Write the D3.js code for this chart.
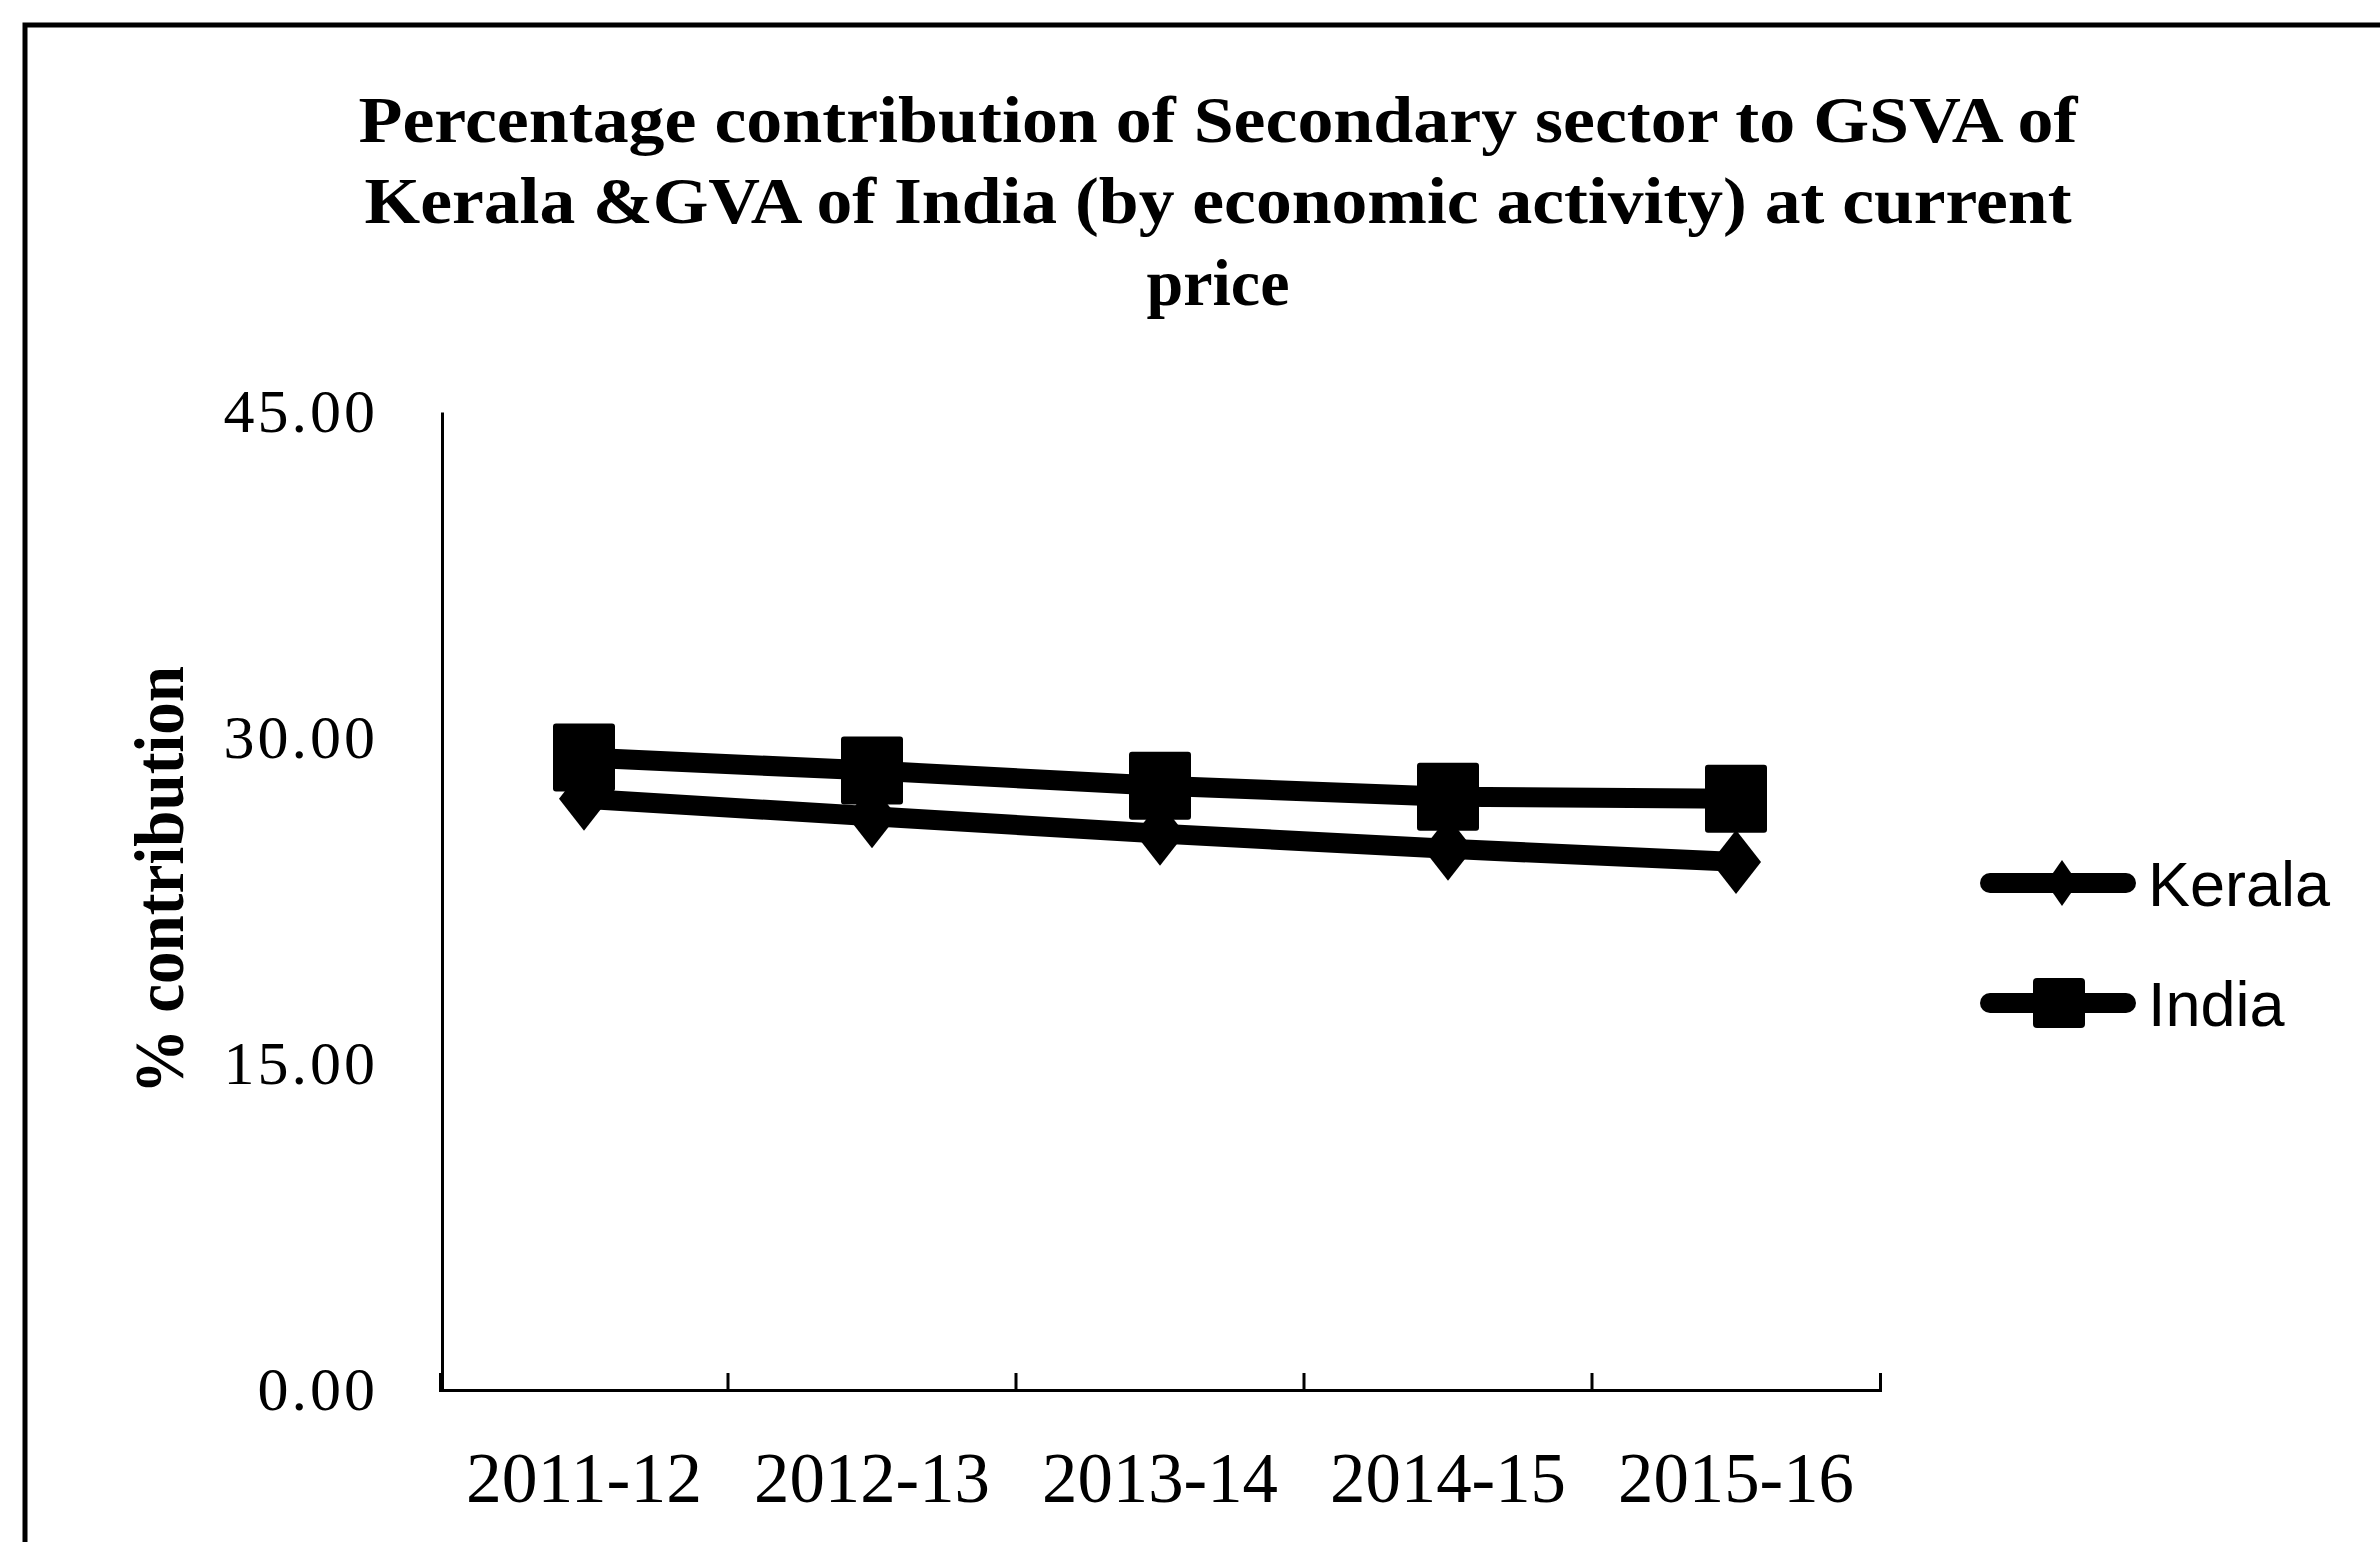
<!DOCTYPE html>
<html>
<head>
<meta charset="utf-8">
<script src="https://cdn.jsdelivr.net/npm/d3@7/dist/d3.min.js"></script>
<style>
body{margin:0;background:#fff;}
</style>
</head>
<body>
<div id="plotdiv"></div>
<script>
var years = ["2011-12","2012-13","2013-14","2014-15","2015-16"];
var kerala = [27.2,26.4,25.6,24.9,24.3];
var india = [29.1,28.5,27.8,27.3,27.2];
var yTicks = [0,15,30,45];
var seriesNames = ["Kerala","India"];
var titleLines = [
	"Percentage contribution of Secondary sector to GSVA of",
	"Kerala &GVA of India (by economic activity) at current",
	"price"
];
var yTitle = "% contribution";

function drawChart()
{
	var width = 2380;
	var height = 1542;
	var serif = "'Liberation Serif','Times New Roman',serif";
	var sans = "'Liberation Sans',Arial,sans-serif";

	var svg = d3.select("#plotdiv")
		.append("svg")
		.attr("width",width)
		.attr("height",height)
		.style("display","block");

	svg.append("rect")
		.attr("width",width)
		.attr("height",height)
		.attr("fill","#fff");

	// outer frame (only top and left survive in the scan)
	svg.append("path")
		.attr("d","M25," + height + "V25H" + width)
		.attr("fill","none")
		.attr("stroke","#000")
		.attr("stroke-width",5);

	// title
	var titleY = [142,223,305];
	var titleLen = [1719,1707,null];
	svg.append("g").selectAll("text")
		.data(titleLines)
		.enter().append("text")
		.attr("x",1218)
		.attr("y",function(d,i){return titleY[i];})
		.attr("text-anchor","middle")
		.attr("font-family",serif)
		.attr("font-weight","bold")
		.attr("font-size",66)
		.each(function(d,i){
			if(titleLen[i]){
				d3.select(this).attr("textLength",titleLen[i]).attr("lengthAdjust","spacingAndGlyphs");
			}
		})
		.text(function(d){return d;});

	var x = d3.scaleBand().domain(years).range([440,1880]).padding(0);
	var y = d3.scaleLinear().domain([0,45]).range([1390,412]);

	// y axis
	var yAxis = svg.append("g")
		.attr("transform","translate(442,0)")
		.call(d3.axisLeft(y).tickValues(yTicks).tickFormat(d3.format(".2f")).tickSize(0).tickPadding(64));
	yAxis.select(".domain").attr("stroke","#000").attr("stroke-width",3);
	yAxis.selectAll("text")
		.attr("font-family",serif)
		.attr("font-size",62)
		.attr("letter-spacing",3)
		.attr("fill","#000");

	// x axis
	var xAxis = svg.append("g")
		.attr("transform","translate(0,1390)")
		.call(d3.axisBottom(x).tickSize(0).tickSizeOuter(-17));
	xAxis.select(".domain").attr("stroke","#000").attr("stroke-width",3).attr("fill","none");
	xAxis.selectAll("text")
		.attr("y",112)
		.attr("dy",null)
		.attr("font-family",serif)
		.attr("font-size",72)
		.attr("textLength",236)
		.attr("lengthAdjust","spacingAndGlyphs")
		.attr("fill","#000");
	xAxis.selectAll(".sep")
		.data(years.slice(1))
		.enter().append("line")
		.attr("class","sep")
		.attr("x1",function(d){return x(d);})
		.attr("x2",function(d){return x(d);})
		.attr("y1",0)
		.attr("y2",-17)
		.attr("stroke","#000")
		.attr("stroke-width",3);

	// y title
	svg.append("text")
		.attr("transform","translate(183,880) rotate(-90)")
		.attr("text-anchor","middle")
		.attr("font-family",serif)
		.attr("font-weight","bold")
		.attr("font-size",70)
		.attr("textLength",428)
		.attr("lengthAdjust","spacingAndGlyphs")
		.text(yTitle);

	var line = d3.line()
		.x(function(d,i){return x(years[i]) + x.bandwidth()/2;})
		.y(function(d){return y(d);});

	var diamond = function(w,h){return "M0," + (-h) + "L" + w + ",0L0," + h + "L" + (-w) + ",0Z";};

	// Kerala
	svg.append("path")
		.attr("d",line(kerala))
		.attr("fill","none")
		.attr("stroke","#000")
		.attr("stroke-width",20)
		.attr("stroke-linejoin","round");
	svg.append("g").selectAll("path")
		.data(kerala)
		.enter().append("path")
		.attr("d",diamond(25,32))
		.attr("transform",function(d,i){return "translate(" + (x(years[i]) + x.bandwidth()/2) + "," + y(d) + ")";})
		.attr("fill","#000");

	// India
	svg.append("path")
		.attr("d",line(india))
		.attr("fill","none")
		.attr("stroke","#000")
		.attr("stroke-width",20)
		.attr("stroke-linejoin","round");
	svg.append("g").selectAll("rect")
		.data(india)
		.enter().append("rect")
		.attr("x",function(d,i){return x(years[i]) + x.bandwidth()/2 - 31;})
		.attr("y",function(d){return y(d) - 34;})
		.attr("width",62)
		.attr("height",68)
		.attr("rx",3)
		.attr("fill","#000");

	// legend
	var legY = [883,1003];
	var leg = svg.append("g").selectAll("g")
		.data(seriesNames)
		.enter().append("g")
		.attr("transform",function(d,i){return "translate(0," + legY[i] + ")";});
	leg.append("line")
		.attr("x1",1990)
		.attr("x2",2126)
		.attr("stroke","#000")
		.attr("stroke-width",20)
		.attr("stroke-linecap","round");
	leg.filter(function(d){return d == "Kerala";})
		.append("path")
		.attr("d",diamond(16,23))
		.attr("transform","translate(2062,0)")
		.attr("fill","#000");
	leg.filter(function(d){return d == "India";})
		.append("rect")
		.attr("x",2033)
		.attr("y",-25)
		.attr("width",52)
		.attr("height",50)
		.attr("rx",4)
		.attr("fill","#000");
	leg.append("text")
		.attr("x",2148)
		.attr("y",23)
		.attr("font-family",sans)
		.attr("font-size",63)
		.attr("fill","#000")
		.text(function(d){return d;});
}

drawChart();
</script>
</body>
</html>
